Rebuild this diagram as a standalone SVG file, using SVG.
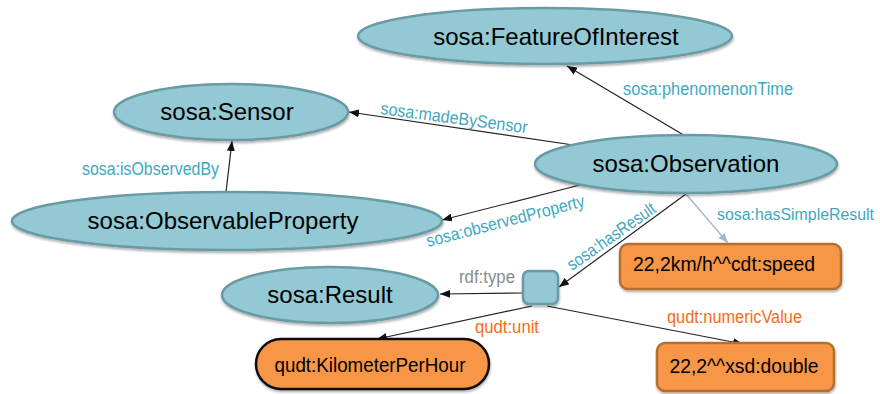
<svg xmlns="http://www.w3.org/2000/svg" width="880" height="394" viewBox="0 0 880 394">
<style>
.ell{fill:#92C9D4;stroke:#6A9AA4;stroke-width:2.5;filter:url(#sh)}
.lit{fill:#F79646;stroke:#B5702F;stroke-width:2.5;filter:url(#sh)}
.nt{font-family:"Liberation Sans",Arial,sans-serif;font-size:24px;fill:#000;text-anchor:middle}
.lt{font-family:"Liberation Sans",Arial,sans-serif;font-size:19.5px;fill:#000;text-anchor:middle}
.el{font-family:"Liberation Sans",Arial,sans-serif;font-size:17.5px;fill:#3FA7BF}
.eo{font-family:"Liberation Sans",Arial,sans-serif;font-size:17.5px;fill:#F86A16}
.eg{font-family:"Liberation Sans",Arial,sans-serif;font-size:17.5px;fill:#8A8A8A}
.c{stroke:#222;stroke-width:1.2;fill:none;marker-end:url(#ah)}
.cl{stroke:#A7B5D0;stroke-width:1.4;fill:none;marker-end:url(#ahl)}
</style>
<defs>
<filter id="sh" x="-10%" y="-20%" width="120%" height="150%">
<feDropShadow dx="0.5" dy="2" stdDeviation="1.2" flood-color="#000" flood-opacity="0.3"/>
</filter>
<marker id="ah" markerUnits="userSpaceOnUse" markerWidth="10" markerHeight="8" refX="10" refY="4" orient="auto">
<path d="M0,0 L10,4 L0,8 z" fill="#111"/>
</marker>
<marker id="ahl" markerUnits="userSpaceOnUse" markerWidth="10" markerHeight="8" refX="10" refY="4" orient="auto">
<path d="M0,0 L10,4 L0,8 z" fill="#A7B5D0"/>
</marker>
</defs>
<rect width="880" height="394" fill="#fff"/>

<g id="connectors">
<line class="c" x1="687" y1="137" x2="567" y2="66"/>
<line class="c" x1="580" y1="146" x2="349" y2="112"/>
<line class="c" x1="226" y1="192" x2="232" y2="141"/>
<line class="c" x1="580" y1="185" x2="442" y2="220"/>
<line class="c" x1="686" y1="194" x2="559" y2="287"/>
<line class="cl" x1="686" y1="194" x2="728" y2="243"/>
<line class="c" x1="523" y1="293" x2="440" y2="294"/>
<line class="c" x1="532" y1="306" x2="377" y2="339"/>
<line class="c" x1="547" y1="306" x2="743" y2="344"/>
<text class="el" x="623" y="95" textLength="170" lengthAdjust="spacingAndGlyphs">sosa:phenomenonTime</text>
<text class="el" x="380" y="114" transform="rotate(7.5 380 114)" textLength="148" lengthAdjust="spacingAndGlyphs">sosa:madeBySensor</text>
<text class="el" x="82" y="175" textLength="137" lengthAdjust="spacingAndGlyphs">sosa:isObservedBy</text>
<text class="el" x="428" y="247" transform="rotate(-14.5 428 247)" textLength="163" lengthAdjust="spacingAndGlyphs">sosa:observedProperty</text>
<text class="el" x="572" y="271" transform="rotate(-35 572 271)" textLength="104" lengthAdjust="spacingAndGlyphs">sosa:hasResult</text>
<text class="el" x="717" y="220" style="font-size:15.8px" textLength="157" lengthAdjust="spacingAndGlyphs">sosa:hasSimpleResult</text>
<text class="eg" x="459" y="283" textLength="56" lengthAdjust="spacingAndGlyphs">rdf:type</text>
<text class="eo" x="475" y="333" textLength="64" lengthAdjust="spacingAndGlyphs">qudt:unit</text>
<text class="eo" x="667" y="323" textLength="135" lengthAdjust="spacingAndGlyphs">qudt:numericValue</text>
</g>

<g id="n-foi">
<ellipse class="ell" cx="545" cy="36" rx="187" ry="28"/>
<text class="nt" x="556" y="45">sosa:FeatureOfInterest</text>
</g>
<g id="n-sensor">
<ellipse class="ell" cx="231" cy="112" rx="117" ry="28"/>
<text class="nt" x="227" y="120">sosa:Sensor</text>
</g>
<g id="n-obsprop">
<ellipse class="ell" cx="227" cy="221" rx="215" ry="29"/>
<text class="nt" x="223" y="229">sosa:ObservableProperty</text>
</g>
<g id="n-observation">
<ellipse class="ell" cx="686" cy="164" rx="151" ry="29"/>
<text class="nt" x="686" y="172">sosa:Observation</text>
</g>
<g id="n-result">
<ellipse class="ell" cx="330" cy="295" rx="108" ry="28"/>
<text class="nt" x="330" y="303">sosa:Result</text>
</g>
<g id="n-blank">
<rect class="ell" x="523" y="271" width="35" height="33" rx="6"/>
</g>
<g id="n-speed">
<rect class="lit" x="620" y="244" width="221" height="45" rx="8"/>
<text class="lt" x="724" y="271" textLength="182" lengthAdjust="spacingAndGlyphs">22,2km/h^^cdt:speed</text>
</g>
<g id="n-kmh">
<rect x="256" y="339" width="233" height="50" rx="25" fill="#F79646" stroke="#111" stroke-width="2.5" filter="url(#sh)"/>
<text class="lt" x="370" y="372" textLength="191" lengthAdjust="spacingAndGlyphs">qudt:KilometerPerHour</text>
</g>
<g id="n-double">
<rect class="lit" x="657" y="343" width="177" height="48" rx="8"/>
<text class="lt" x="744" y="373" textLength="149" lengthAdjust="spacingAndGlyphs">22,2^^xsd:double</text>
</g>
</svg>
